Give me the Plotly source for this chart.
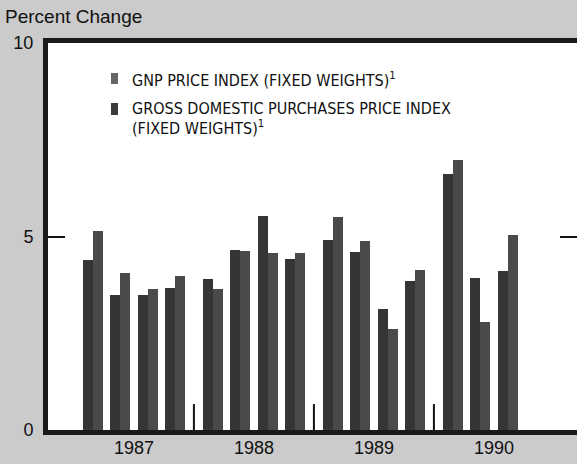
import plotly.graph_objects as go

# ---- data ----
years = [1987, 1988, 1989, 1990]
quarters = ["Q1", "Q2", "Q3", "Q4"]
period_labels = [
    "1987 Q1", "1987 Q2", "1987 Q3", "1987 Q4",
    "1988 Q1", "1988 Q2", "1988 Q3", "1988 Q4",
    "1989 Q1", "1989 Q2", "1989 Q3", "1989 Q4",
    "1990 Q1", "1990 Q2", "1990 Q3",
]
gnp_price = [4.40, 3.50, 3.50, 3.68, 3.91, 4.66, 5.52, 4.41, 4.91, 4.60, 3.13, 3.84, 6.62, 3.93, 4.12]
gdp_purchases_price = [5.14, 4.05, 3.65, 3.99, 3.65, 4.62, 4.58, 4.58, 5.50, 4.88, 2.61, 4.14, 6.98, 2.79, 5.04]
y_ticks = [0, 5, 10]

# ---- layout helpers ----
YEAR_SPAN = 4.3636  # quarters per year incl. gap between years
BAR_W = 0.36

def xpos(label):
    y, q = label.split()
    return years.index(int(y)) * YEAR_SPAN + quarters.index(q)

xs = [xpos(p) for p in period_labels]
year_centers = [i * YEAR_SPAN + 1.5 for i in range(len(years))]
separators = [i * YEAR_SPAN + 3.68 for i in range(len(years) - 1)]

FONT = "Liberation Sans, Arial, Helvetica, sans-serif"
NARROW = "Liberation Sans Narrow, Arial Narrow, DejaVu Sans Condensed, sans-serif"
C1 = "#353535"
C2 = "#4a4a4a"

fig = go.Figure()
fig.add_trace(go.Bar(x=xs, y=gnp_price, width=BAR_W, offset=-BAR_W,
                     marker=dict(color=C1, line=dict(width=0)),
                     name="GNP PRICE INDEX (FIXED WEIGHTS)", hovertext=period_labels))
fig.add_trace(go.Bar(x=xs, y=gdp_purchases_price, width=BAR_W, offset=0,
                     marker=dict(color=C2, line=dict(width=0)),
                     name="GROSS DOMESTIC PURCHASES PRICE INDEX (FIXED WEIGHTS)", hovertext=period_labels))

for s in separators:
    fig.add_shape(type="line", x0=s, x1=s, y0=0, y1=0.67, xref="x", yref="y",
                  line=dict(color="#111", width=2))

# custom legend
PL, PR, PT, PB = 48, 577, 43, 430
def px_x(px):
    return (px - PL) / (PR - PL)
def px_y(py):
    return (PB - py) / (PB - PT)

fig.add_shape(type="rect", xref="paper", yref="paper",
              x0=px_x(111), x1=px_x(118), y0=px_y(84), y1=px_y(73),
              fillcolor="#666666", line=dict(width=0))
fig.add_shape(type="rect", xref="paper", yref="paper",
              x0=px_x(111), x1=px_x(118), y0=px_y(115), y1=px_y(103),
              fillcolor="#3a3a3a", line=dict(width=0))

legend_font = dict(family=NARROW, size=16, color="#111")
fig.add_annotation(text="GNP PRICE INDEX (FIXED WEIGHTS)<sup>1</sup>", xref="paper", yref="paper",
                   x=px_x(130), y=px_y(79), xanchor="left", yanchor="middle",
                   showarrow=False, font=legend_font)
fig.add_annotation(text="GROSS DOMESTIC PURCHASES PRICE INDEX", xref="paper", yref="paper",
                   x=px_x(130), y=px_y(109), xanchor="left", yanchor="middle",
                   showarrow=False, font=legend_font)
fig.add_annotation(text="(FIXED WEIGHTS)<sup>1</sup>", xref="paper", yref="paper",
                   x=px_x(130), y=px_y(127), xanchor="left", yanchor="middle",
                   showarrow=False, font=legend_font)

fig.add_annotation(text="Percent Change", xref="paper", yref="paper",
                   x=px_x(3), y=px_y(16), xanchor="left", yanchor="middle",
                   showarrow=False, font=dict(family=FONT, size=19, color="#111"))

fig.update_layout(
    width=577, height=464,
    margin=dict(l=PL, r=0, t=PT, b=464 - PB, autoexpand=False),
    paper_bgcolor="#cbcbcb",
    plot_bgcolor="#ffffff",
    barmode="overlay",
    bargap=0,
    showlegend=False,
    font=dict(family=FONT, size=17, color="#111"),
    xaxis=dict(range=[-1.625, 17.61], tickvals=year_centers, ticktext=[str(y) for y in years],
               ticks="", showgrid=False, zeroline=False, showline=True, linewidth=5,
               linecolor="#1a1a1a", mirror=True, ticklabelstandoff=-3,
               tickfont=dict(family=FONT, size=18, color="#111")),
    yaxis=dict(range=[0, 10], tickvals=y_ticks, ticktext=[str(v) for v in y_ticks],
               ticks="inside", ticklen=17, tickwidth=2, tickcolor="#111",
               showgrid=False, zeroline=False, showline=True, linewidth=5,
               linecolor="#1a1a1a", mirror="ticks", ticklabelstandoff=6,
               tickfont=dict(family=FONT, size=18, color="#111")),
)

fig.write_html("out.html", config={"displayModeBar": False},
               post_script="document.body.style.margin='0px';document.body.style.overflow='hidden';")
